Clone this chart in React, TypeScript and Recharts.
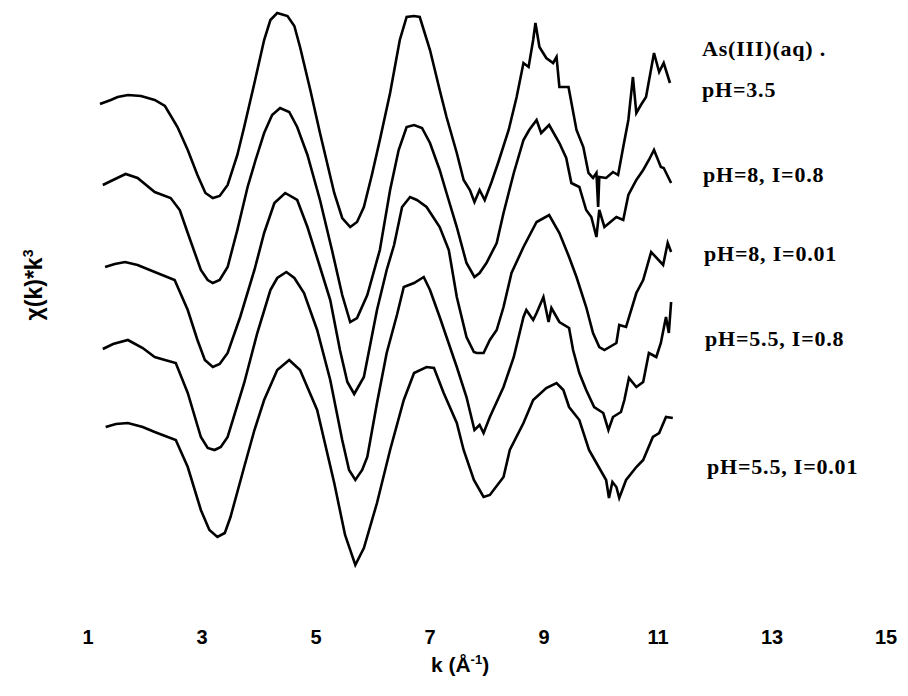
import React from 'react';
import { LineChart, Line, XAxis, YAxis } from 'recharts';

// k (Å^-1) sample positions and chi(k)*k^3 values (stacked, arbitrary units) per spectrum
const k1 = [1.21, 1.4, 1.52, 1.7, 1.93, 2.17, 2.35, 2.57, 2.75, 2.92, 3.06, 3.19, 3.31, 3.45, 3.62, 3.74, 3.92, 4.09, 4.2, 4.32, 4.5, 4.62, 4.72, 4.9, 5.07, 5.32, 5.46, 5.6, 5.72, 5.84, 5.98, 6.12, 6.3, 6.47, 6.59, 6.72, 6.82, 7.0, 7.17, 7.29, 7.47, 7.59, 7.7, 7.78, 7.87, 7.96, 8.08, 8.2, 8.38, 8.52, 8.64, 8.73, 8.81, 8.85, 8.92, 9.04, 9.16, 9.22, 9.27, 9.43, 9.57, 9.69, 9.78, 9.86, 9.92, 9.95, 9.97, 10.09, 10.21, 10.3, 10.39, 10.48, 10.56, 10.62, 10.7, 10.79, 10.93, 11.02, 11.1, 11.21];
const v1 = [25.2, 25.4, 25.55, 25.65, 25.6, 25.4, 25.1, 24.05, 22.9, 21.65, 20.75, 20.5, 20.6, 21.15, 22.65, 24.05, 26.25, 28.4, 29.4, 29.75, 29.6, 29.1, 28.05, 25.9, 23.75, 20.75, 19.5, 19.05, 19.3, 20.05, 21.65, 23.4, 25.75, 28.4, 29.55, 29.6, 29.55, 27.9, 25.9, 24.55, 22.75, 21.4, 20.9, 20.3, 20.9, 20.4, 21.3, 22.3, 23.9, 25.55, 27.25, 27.05, 28.4, 29.25, 28.05, 27.5, 27.25, 27.55, 26.05, 26.05, 23.9, 23.05, 21.75, 21.5, 21.75, 20.05, 21.55, 21.5, 21.8, 21.65, 23.05, 24.4, 26.55, 24.75, 25.15, 25.55, 27.75, 26.8, 27.25, 26.25];

const k2 = [1.26, 1.44, 1.66, 1.87, 2.17, 2.45, 2.61, 2.75, 2.98, 3.1, 3.19, 3.31, 3.45, 3.62, 3.8, 3.94, 4.09, 4.23, 4.37, 4.53, 4.67, 4.85, 5.07, 5.28, 5.46, 5.6, 5.72, 5.9, 6.12, 6.3, 6.45, 6.59, 6.72, 6.86, 7.0, 7.17, 7.29, 7.47, 7.64, 7.78, 7.87, 7.99, 8.17, 8.29, 8.47, 8.64, 8.74, 8.87, 8.95, 9.09, 9.27, 9.39, 9.48, 9.62, 9.74, 9.83, 9.92, 9.97, 10.06, 10.27, 10.39, 10.48, 10.62, 10.74, 10.84, 10.93, 11.05, 11.1, 11.23];
const v2 = [21.15, 21.4, 21.7, 21.5, 20.8, 20.5, 19.9, 18.75, 16.9, 16.4, 16.25, 16.4, 17.05, 18.9, 21.05, 22.4, 23.75, 24.65, 25.0, 24.8, 24.05, 22.65, 20.4, 17.9, 15.65, 14.3, 14.5, 15.65, 17.9, 20.9, 22.9, 24.05, 24.15, 24.0, 23.25, 21.9, 20.75, 19.05, 17.25, 16.55, 16.75, 17.25, 18.25, 19.75, 21.75, 23.4, 23.9, 24.4, 23.75, 24.15, 23.25, 22.5, 21.25, 21.05, 19.9, 19.55, 18.55, 19.9, 19.05, 19.55, 19.4, 20.65, 21.4, 21.9, 22.4, 22.9, 22.05, 22.0, 21.25];

const k3 = [1.3, 1.47, 1.65, 1.87, 2.17, 2.52, 2.75, 2.92, 3.05, 3.19, 3.31, 3.45, 3.67, 3.92, 4.09, 4.27, 4.46, 4.67, 4.85, 5.07, 5.25, 5.42, 5.55, 5.67, 5.84, 6.07, 6.24, 6.37, 6.51, 6.65, 6.77, 6.94, 7.17, 7.33, 7.47, 7.64, 7.77, 7.82, 7.94, 8.05, 8.17, 8.29, 8.43, 8.64, 8.87, 9.09, 9.27, 9.44, 9.57, 9.74, 9.86, 9.97, 10.06, 10.27, 10.32, 10.44, 10.62, 10.74, 10.88, 11.09, 11.17, 11.23];
const v3 = [17.05, 17.2, 17.3, 17.15, 16.8, 16.4, 14.9, 13.4, 12.4, 12.05, 12.2, 12.75, 14.55, 16.9, 18.75, 20.25, 20.75, 20.4, 19.05, 17.05, 15.4, 12.9, 11.3, 10.7, 11.55, 14.9, 16.9, 18.15, 20.05, 20.55, 20.4, 20.05, 19.05, 17.9, 15.55, 13.55, 12.8, 12.75, 12.75, 13.4, 13.9, 15.05, 16.75, 18.05, 19.3, 19.65, 18.75, 17.55, 16.55, 15.05, 13.75, 13.05, 12.9, 13.25, 14.15, 14.05, 15.75, 16.4, 17.8, 17.15, 18.25, 17.8];

const k4 = [1.26, 1.44, 1.7, 1.96, 2.17, 2.35, 2.54, 2.75, 2.98, 3.1, 3.22, 3.33, 3.45, 3.74, 3.97, 4.2, 4.32, 4.48, 4.62, 4.79, 5.02, 5.25, 5.46, 5.58, 5.69, 5.81, 5.9, 6.07, 6.24, 6.42, 6.54, 6.72, 6.89, 7.0, 7.17, 7.47, 7.64, 7.78, 7.87, 7.94, 8.05, 8.29, 8.47, 8.64, 8.69, 8.81, 8.87, 8.99, 9.08, 9.13, 9.27, 9.44, 9.51, 9.62, 9.74, 9.88, 10.04, 10.13, 10.21, 10.35, 10.41, 10.49, 10.62, 10.74, 10.84, 10.97, 11.05, 11.14, 11.19, 11.23];
const v4 = [12.95, 13.2, 13.4, 13.0, 12.55, 12.4, 12.25, 10.75, 8.55, 8.0, 7.9, 8.05, 8.55, 11.25, 13.75, 15.9, 16.5, 16.8, 16.5, 15.75, 13.9, 11.4, 8.4, 6.9, 6.4, 6.9, 7.55, 10.25, 12.75, 14.65, 16.05, 16.25, 16.55, 15.9, 14.55, 12.05, 10.55, 8.9, 9.15, 8.75, 9.55, 11.05, 12.55, 14.55, 14.9, 14.4, 14.75, 15.55, 14.3, 15.0, 14.3, 14.0, 12.9, 11.75, 10.9, 10.05, 9.75, 8.9, 9.55, 9.8, 10.4, 11.5, 11.05, 11.3, 12.75, 12.55, 13.25, 14.55, 13.75, 15.3];

const k5 = [1.31, 1.49, 1.7, 1.96, 2.17, 2.54, 2.75, 2.98, 3.13, 3.27, 3.4, 3.5, 3.74, 3.92, 4.09, 4.32, 4.53, 4.72, 5.02, 5.32, 5.51, 5.69, 5.84, 6.07, 6.3, 6.54, 6.72, 6.94, 7.07, 7.24, 7.47, 7.59, 7.77, 7.94, 8.05, 8.29, 8.4, 8.64, 8.81, 9.04, 9.22, 9.34, 9.44, 9.62, 9.79, 9.92, 10.09, 10.14, 10.2, 10.27, 10.32, 10.44, 10.62, 10.74, 10.91, 11.02, 11.14, 11.26];
const v5 = [9.05, 9.2, 9.25, 9.05, 8.8, 8.4, 7.05, 4.9, 3.9, 3.55, 3.75, 4.55, 7.05, 8.9, 10.4, 11.9, 12.4, 11.9, 9.9, 6.25, 3.65, 2.15, 3.0, 5.25, 7.9, 10.4, 11.75, 12.05, 12.0, 10.75, 9.25, 7.9, 6.4, 5.55, 5.65, 6.55, 7.9, 9.25, 10.4, 11.0, 11.25, 10.9, 10.05, 9.4, 7.9, 7.25, 6.4, 5.5, 6.3, 6.05, 5.5, 6.4, 7.05, 7.4, 8.55, 8.75, 9.55, 9.5];

const kTicks = [1, 3, 5, 7, 9, 11, 13, 15];
const sampleLabels = ['As(III)(aq) .', 'pH=3.5', 'pH=8, I=0.8', 'pH=8, I=0.01', 'pH=5.5, I=0.8', 'pH=5.5, I=0.01'];
const labelTops = [29, 70, 155, 234, 319, 447];
const labelLefts = [694, 694, 695, 696, 697, 699];

const toPoints = (ks: number[], vs: number[]) => ks.map((k, i) => ({ k, v: vs[i] }));
const spectra = [toPoints(k1, v1), toPoints(k2, v2), toPoints(k3, v3), toPoints(k4, v4), toPoints(k5, v5)];

export default function App() {
  return (
    <div style={{ position: 'relative', width: 900, height: 680, background: '#fff' }}>
      <LineChart width={900} height={680} margin={{ top: 0, right: 22, bottom: 0, left: 80 }}>
        <XAxis
          dataKey="k"
          type="number"
          domain={[1, 15]}
          ticks={kTicks}
          axisLine={false}
          tickLine={false}
          tickSize={0}
          tickMargin={22}
          height={80}
          interval={0}
          allowDataOverflow
          tick={{ fill: '#000', fontSize: 20, fontWeight: 'bold', fontFamily: "'Liberation Sans', Arial, sans-serif" }}
        />
        <YAxis type="number" domain={[0, 30]} hide />
        {spectra.map((pts, i) => (
          <Line
            key={i}
            data={pts}
            dataKey="v"
            type="linear"
            stroke="#000"
            strokeWidth={2.6}
            dot={false}
            isAnimationActive={false}
          />
        ))}
      </LineChart>
      {sampleLabels.map((t, i) => (
        <div
          key={t}
          style={{
            position: 'absolute',
            left: labelLefts[i],
            top: labelTops[i],
            lineHeight: '24px',
            fontFamily: "'Liberation Serif', 'Times New Roman', serif",
            fontWeight: 'bold',
            fontSize: 22,
            letterSpacing: 0.8,
            whiteSpace: 'nowrap',
            color: '#000',
          }}
        >
          {t}
        </div>
      ))}
      <div
        style={{
          position: 'absolute',
          left: 26,
          top: 277,
          transform: 'translate(-50%, -50%) rotate(-90deg)',
          fontFamily: "'Liberation Sans', Arial, sans-serif",
          fontWeight: 'bold',
          fontSize: 23,
          whiteSpace: 'nowrap',
        }}
      >
        χ(k)*k<sup style={{ fontSize: 14 }}>3</sup>
      </div>
      <div
        style={{
          position: 'absolute',
          left: 452,
          top: 656,
          transform: 'translate(-50%, -50%)',
          fontFamily: "'Liberation Sans', Arial, sans-serif",
          fontWeight: 'bold',
          fontSize: 21,
          whiteSpace: 'nowrap',
        }}
      >
        k (Å<sup style={{ fontSize: 13 }}>-1</sup>)
      </div>
    </div>
  );
}
